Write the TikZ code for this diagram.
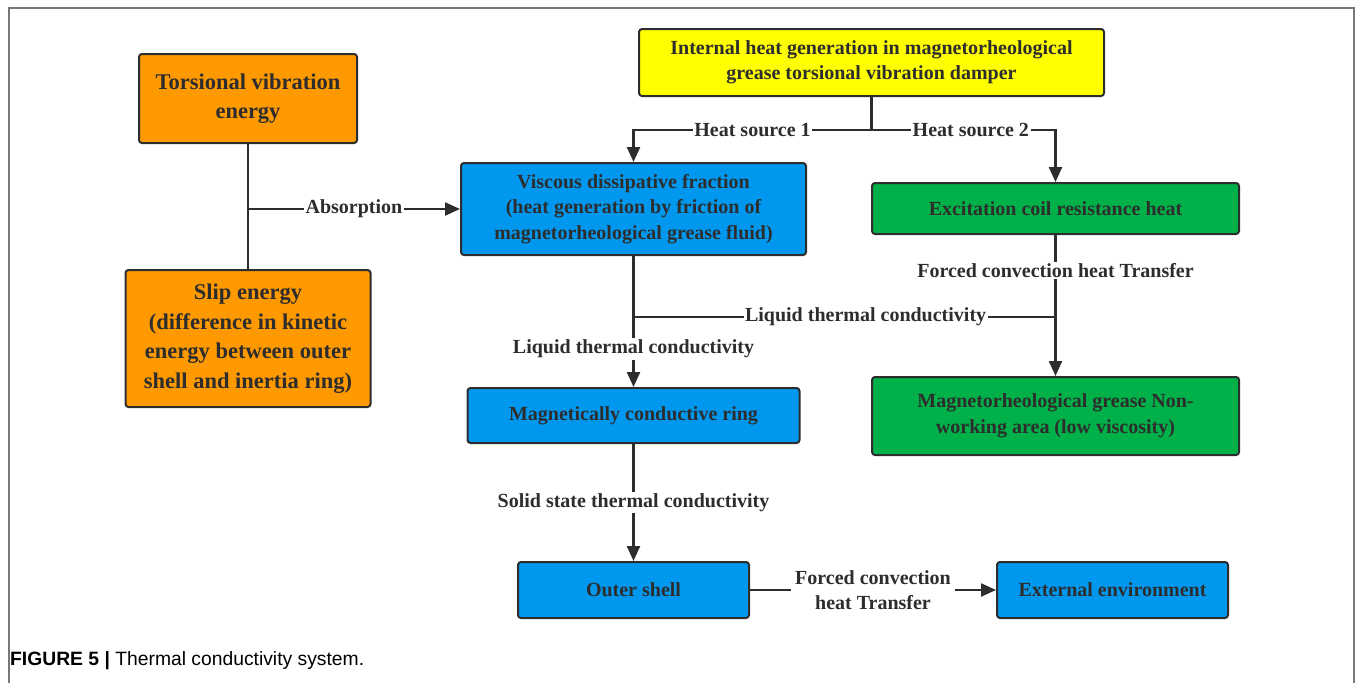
\documentclass[tikz,border=0pt]{standalone}
\usepackage{fontspec}
\setmainfont{Liberation Serif}
\newfontfamily\capfont{Liberation Sans}
\usetikzlibrary{arrows.meta}
\definecolor{boxorange}{RGB}{255,153,0}
\definecolor{boxyellow}{RGB}{255,255,0}
\definecolor{boxblue}{RGB}{0,152,238}
\definecolor{boxgreen}{RGB}{0,176,72}
\definecolor{ink}{RGB}{45,45,45}
\definecolor{framegray}{RGB}{120,120,120}
\tikzset{
  box/.style={draw=ink, line width=2pt, rounded corners=3pt, align=center,
    text=ink, font=\fontsize{20}{25.5}\selectfont\bfseries, inner sep=0pt},
  bigbox/.style={box, font=\fontsize{22.5}{29.5}\selectfont\bfseries},
  conn/.style={draw=ink, line width=2.4pt},
  arr/.style={conn, -{Triangle[length=15pt,width=13pt]}},
  lab/.style={fill=white, text=ink, inner sep=1.5pt, align=center,
    font=\fontsize{20}{25}\selectfont\bfseries},
}
\begin{document}
\begin{tikzpicture}[x=1pt,y=-1pt]
\useasboundingbox (0,0) rectangle (1355,683);
% frame
\draw[framegray, line width=1.5pt] (9,683) -- (9,8) -- (1354,8) -- (1354,683);
% boxes
\node[bigbox, fill=boxorange, minimum width=218pt, minimum height=89pt] (tor) at (248,98.5) {Torsional vibration\\energy};
\node[bigbox, fill=boxorange, minimum width=245pt, minimum height=137pt] (slip) at (248,338.5) {Slip energy\\(difference in kinetic\\energy between outer\\shell and inertia ring)};
\node[box, fill=boxyellow, minimum width=465pt, minimum height=67pt] (yel) at (871.5,62.5) {Internal heat generation in magnetorheological\\grease torsional vibration damper};
\node[box, fill=boxblue, minimum width=345pt, minimum height=92pt] (visc) at (633.5,209) {Viscous dissipative fraction\\(heat generation by friction of\\magnetorheological grease fluid)};
\node[box, fill=boxgreen, minimum width=367pt, minimum height=51pt] (exc) at (1055.5,208.5) {Excitation coil resistance heat};
\node[box, fill=boxgreen, minimum width=367pt, minimum height=78pt] (nonw) at (1055.5,416) {Magnetorheological grease Non-\\working area (low viscosity)};
\node[box, fill=boxblue, minimum width=332pt, minimum height=55pt] (ring) at (633.5,415.5) {Magnetically conductive ring};
\node[box, fill=boxblue, minimum width=231pt, minimum height=56pt] (outer) at (633.5,590) {Outer shell};
\node[box, fill=boxblue, minimum width=231pt, minimum height=56pt] (ext) at (1112.5,590) {External environment};
% connectors
\draw[conn] (tor.south) -- (slip.north);
\coordinate (j1) at (tor.south |- visc.west);
\draw[arr] (j1) -- node[lab, pos=0.5]{Absorption} (visc.west);
\draw[conn] (yel.south) -- ++(0,33) coordinate (hj);
\draw[arr] (hj) -- node[lab, pos=0.5]{Heat source 1} (hj -| visc.north) -- (visc.north);
\draw[arr] (hj) -- node[lab, pos=0.54]{Heat source 2} (hj -| exc.north) -- (exc.north);
\draw[arr] (exc.south) -- node[lab, pos=0.25]{Forced convection heat Transfer} (nonw.north);
\draw[arr] (visc.south) -- node[lab, pos=0.71]{Liquid thermal conductivity} (ring.north);
\coordinate (j2) at (633.5,317);
\coordinate (j3) at (exc.south |- j2);
\draw[conn] (j2) -- node[lab, pos=0.55]{Liquid thermal conductivity} (j3);
\draw[arr] (ring.south) -- node[lab, pos=0.5]{Solid state thermal conductivity} (outer.north);
\draw[arr] (outer.east) -- node[lab, pos=0.5, inner sep=4pt]{Forced convection\\heat Transfer} (ext.west);
% caption
\node[anchor=west, inner sep=0pt, text=black, font=\capfont\fontsize{19.3}{22}\selectfont] (cap) at (10,661) {\textbf{FIGURE 5 |} Thermal conductivity system.};
\end{tikzpicture}
\end{document}
